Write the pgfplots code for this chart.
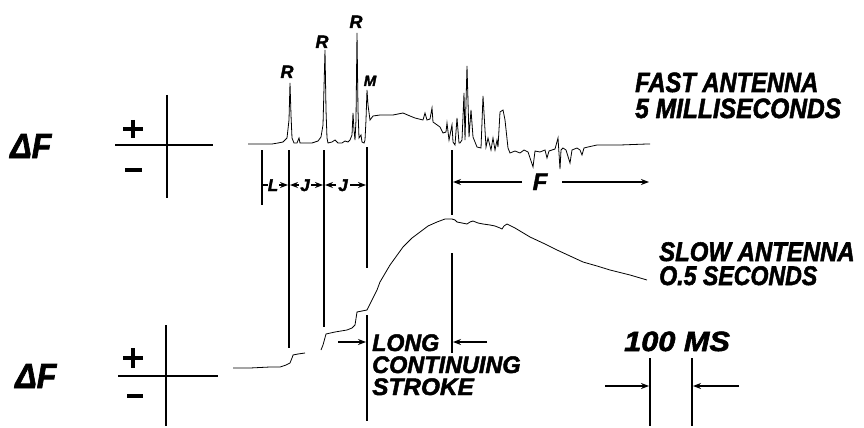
\documentclass[border=0pt]{standalone}
\usepackage{fontspec}
\setmainfont{Liberation Sans}
\newfontface\lettering{Liberation Sans Bold Italic}[FakeBold=2]
\usepackage{graphicx}
\usepackage{pgfplots}
\pgfplotsset{compat=1.18}
\usetikzlibrary{arrows.meta}

% heavy oblique lettering, size and horizontal squeeze
\newcommand\lbl[3]{{\fontsize{#1}{#1}\selectfont\lettering\scalebox{#2}[1]{#3}}}

\begin{document}
\begin{tikzpicture}[
    mk/.style={line width=2.4bp},
    arr/.style={line width=1.8bp,-{Stealth[length=8bp,width=6bp]}},
    txt/.style={anchor=base west,inner sep=0pt},
    ctr/.style={anchor=base,inner sep=0pt}]
\begin{axis}[scale only axis, width=864bp, height=426bp,
    xmin=0, xmax=864, ymin=0, ymax=426, y dir=reverse,
    hide axis, clip=false]

\addplot[draw=none] coordinates {(0,0) (864,426)};

% fast antenna record
\addplot[black, line width=0.8bp] coordinates {
 (248,144)(260,144)(272,144)(278,143)(283,142)(287,138)(289,120)(290,83)(291,115)
 (292,138)(294,143)(297,143)(299,138)(300,143)(305,143)(312,143)(318,141)(321,137)
 (323,125)(325,50)(326,110)(327,138)(328,143)(332,142)(335,140)(338,143)(342,143)
 (345,141)(348,142)(350,140)(352,135)(353,113)(354,130)(355,140)(356,120)(357,33)
 (358,110)(359,138)(361,135)(362,142)(364,143)(365,140)(366,120)(367,90)(368,105)
 (370,120)(373,116)(380,115)(393,115)(403,113)(410,116)(415,118)(423,120)(425,113)
 (427,120)(430,119)(432,108)(433,122)(440,127)(443,133)(446,132)(447,123)(449,140)
 (452,125)(453,142)(455,145)(457,118)(459,143)(460,143)(462,140)(464,93)(465,140)
 (467,66)(469,137)(471,110)(473,137)(477,147)(481,148)(483,96)(486,147)(488,138)
 (491,150)(493,138)(495,150)(497,140)(498,147)(500,112)(503,110)(505,120)(508,148)
 (510,153)(515,151)(520,153)(524,150)(528,152)(533,167)(535,151)(540,152)(545,150)
 (547,158)(549,151)(555,149)(558,138)(560,169)(561,150)(563,148)(566,150)(570,163)
 (572,150)(577,148)(580,150)(582,155)(584,148)(588,147)(597,145)(620,145)(647,144)
 (650,144)};

% slow antenna record
\addplot[black, line width=0.8bp] coordinates {
 (233,368)(250,368)(270,367)(280,367)(286,365)(290,363)(292,358)(293,355)(298,354)(305,353)};
\addplot[black, line width=0.8bp] coordinates {
 (321,350)(323,345)(326,334)(335,332)(347,330)(352,328)(355,325)(357,312)(362,311)
 (367,310)(372,300)(377,290)(380,282)(390,265)(403,247)(412,238)(420,232)(428,226)
 (437,222)(445,219)(452,219)(455,220)(457,222)(462,223)(467,224)(470,222)(473,221)
 (478,223)(483,224)(490,225)(495,226)(500,228)(502,229)(504,226)(507,224)(515,228)
 (530,237)(545,244)(557,250)(570,256)(583,262)(597,266)(610,270)(630,275)(647,280)};

% axis crosses
\draw[line width=2bp] (axis cs:167,95) -- (axis cs:167,198);
\draw[line width=2bp] (axis cs:115,145) -- (axis cs:213,145);
\draw[line width=2bp] (axis cs:166,325) -- (axis cs:166,426);
\draw[line width=2bp] (axis cs:118,376) -- (axis cs:218,376);
\draw[line width=3.5bp] (axis cs:123,129) -- (axis cs:143,129);
\draw[line width=3.5bp] (axis cs:133,120) -- (axis cs:133,138);
\draw[line width=4bp] (axis cs:125,170) -- (axis cs:142,170);
\draw[line width=3.5bp] (axis cs:123,358) -- (axis cs:143,358);
\draw[line width=3.5bp] (axis cs:133,348) -- (axis cs:133,368);
\draw[line width=4bp] (axis cs:127,396) -- (axis cs:143,396);

\node[txt] at (axis cs:10,158) {\lbl{35}{0.92}{ΔF}};
\node[txt] at (axis cs:15,388) {\lbl{35}{0.92}{ΔF}};

% time markers
\draw[mk] (axis cs:262,150) -- (axis cs:262,205);
\draw[mk] (axis cs:289,150) -- (axis cs:289,348);
\draw[mk] (axis cs:324,150) -- (axis cs:324,327);
\draw[mk] (axis cs:367,147) -- (axis cs:367,268);
\draw[mk] (axis cs:367,315) -- (axis cs:367,421);
\draw[mk] (axis cs:452,150) -- (axis cs:452,215);
\draw[mk] (axis cs:452,253) -- (axis cs:452,353);
\draw[mk] (axis cs:650,358) -- (axis cs:650,426);
\draw[mk] (axis cs:692,358) -- (axis cs:692,426);

% interval arrows
\draw[line width=1.5bp] (axis cs:263,185) -- (axis cs:268,185);
\draw[arr] (axis cs:279,185) -- (axis cs:288,185);
\draw[arr] (axis cs:299,185) -- (axis cs:290,185);
\draw[arr] (axis cs:311,185) -- (axis cs:323,185);
\draw[arr] (axis cs:336,185) -- (axis cs:325,185);
\draw[arr] (axis cs:350,185) -- (axis cs:366,185);
\node[ctr] at (axis cs:273,191) {\lbl{17}{1}{L}};
\node[ctr] at (axis cs:305,191) {\lbl{17}{1}{J}};
\node[ctr] at (axis cs:343,191) {\lbl{17}{1}{J}};

\draw[arr] (axis cs:522,182) -- (axis cs:453,182);
\draw[arr] (axis cs:562,182) -- (axis cs:649,182);
\node[ctr] at (axis cs:540,190) {\lbl{24}{1}{F}};

\draw[arr] (axis cs:338,342) -- (axis cs:366,342);
\draw[arr] (axis cs:487,342) -- (axis cs:453,342);
\draw[arr] (axis cs:605,386) -- (axis cs:649,386);
\draw[arr] (axis cs:739,386) -- (axis cs:693,386);

% peak labels
\node[ctr] at (axis cs:287,78) {\lbl{18}{1}{R}};
\node[ctr] at (axis cs:322,48) {\lbl{18}{1}{R}};
\node[ctr] at (axis cs:356,28) {\lbl{18}{1}{R}};
\node[ctr] at (axis cs:370,86) {\lbl{15}{1}{M}};

% captions
\node[txt] at (axis cs:635,92) {\lbl{28}{0.85}{FAST ANTENNA}};
\node[txt] at (axis cs:635,118) {\lbl{28}{0.88}{5 MILLISECONDS}};
\node[txt] at (axis cs:659,261) {\lbl{27}{0.89}{SLOW ANTENNA}};
\node[txt] at (axis cs:659,285) {\lbl{27}{0.86}{O.5 SECONDS}};
\node[txt] at (axis cs:372,351) {\lbl{24}{0.97}{LONG}};
\node[txt] at (axis cs:372,373) {\lbl{24}{0.98}{CONTINUING}};
\node[txt] at (axis cs:372,395) {\lbl{24}{1.02}{STROKE}};
\node[txt] at (axis cs:624,351) {\lbl{28}{1.1}{100 MS}};
\end{axis}
\end{tikzpicture}
\end{document}
